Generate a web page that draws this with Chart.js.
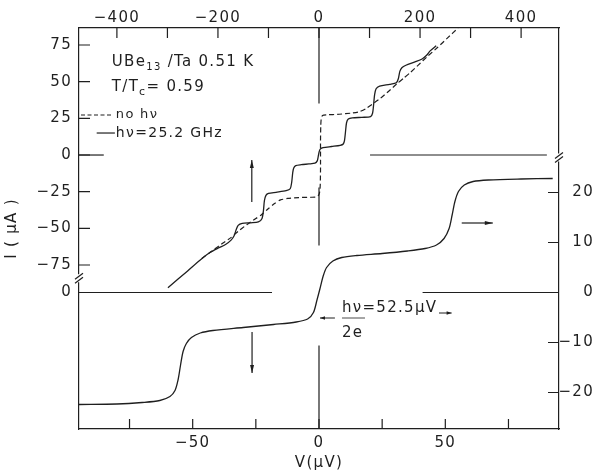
<!DOCTYPE html>
<html>
<head>
<meta charset="utf-8">
<script src="https://cdn.jsdelivr.net/npm/chart.js@4.4.1/dist/chart.umd.min.js"></script>
<style>
  html, body { margin: 0; padding: 0; background: #fff; }
  #wrap { width: 594px; height: 474px; }
</style>
</head>
<body>
<div id="wrap"><canvas id="iv" width="594" height="474"></canvas></div>
<script>
// upper I-V traces: top V axis (uV), left I axis (uA)
// with 25.2 GHz radiation
const rfV = [-299, -260, -235, -216, -200, -185, -174, -168, -164, -160, -152, -135, -120, -113, -110, -108, -105, -100, -85, -65,
  -57, -54, -52, -50, -46, -35, -20, -8, -3.5, -1.5, 0.5, 3, 8, 25, 42, 48, 50.5, 52.5, 54.5, 58,
  66, 85, 102, 106, 108, 110, 113, 120, 140, 153, 157, 160, 164, 172, 190, 204, 213, 220, 232]
const rfI = [-90.5, -79, -71.5, -66.5, -63.5, -61, -58, -55, -51, -48, -46.6, -46.2, -45.6, -43.5, -38, -31, -27.5, -26.2, -25.4, -24.3,
  -23, -18.5, -12, -8.8, -7.2, -6.6, -6.1, -5.6, -4, -1, 2.5, 4.2, 5, 5.8, 6.6, 7.5, 10, 16, 22, 24.5,
  25.3, 25.7, 26.2, 28.5, 34, 41, 45.2, 47, 48.2, 49.3, 52, 57, 59.5, 61.2, 63.5, 65.5, 68, 71, 74.5]
// no radiation
const darkV = [-232, -210, -190, -175, -160, -143, -128, -115, -100, -88, -76, -62, -40, -15, -6, -1, 1.5, 2.5, 3, 3,
  3.5, 4.5, 7, 15, 40, 65, 80, 92, 105, 121, 138, 154, 168, 180, 197, 214, 235, 255, 275]
const darkI = [-70.5, -65, -60, -56.5, -52, -47.5, -44, -41, -36.5, -33, -30.6, -29.6, -29, -28.8, -28.6, -27.5, -25, -20, -10, 10,
  20, 25, 27, 27.4, 27.8, 28.6, 29.5, 31.5, 34.5, 38.5, 43.5, 48.5, 52.5, 56, 61.5, 67, 73.5, 80, 86.5]

// lower trace: bottom V axis (uV), right I axis (uA)
const loV = [-95, -80, -70, -63, -59, -57, -55.8, -54.8, -53.8, -52.5, -50.5, -47, -42, -30, -18, -9, -4.5, -2.2, -0.8, 0.4,
  1.6, 3, 5.5, 9, 15, 25, 35, 42, 46.5, 49.5, 51.5, 52.7, 53.8, 55.2, 57.5, 61, 67, 80, 92.5]
const loI = [-22.4, -22.3, -22.0, -21.6, -20.8, -19.6, -17.5, -14.5, -11.8, -10.2, -9.0, -8.1, -7.6, -7.0, -6.4, -5.9, -5.3, -4.0, -1.5, 0.8,
  3.2, 5, 6.3, 7.0, 7.4, 7.8, 8.3, 8.8, 9.5, 10.8, 12.8, 15.5, 18.2, 20.2, 21.5, 22.2, 22.5, 22.7, 22.8]

const topTicks = [-400, -300, -200, -100, 0, 100, 200, 300, 400]
const topLabels = ['\u2212400', '', '\u2212200', '', '0', '', '200', '', '400']
const botTicks = [-75, -50, -25, 0, 25, 50, 75]
const botLabels = ['', '\u221250', '', '0', '', '50', '']
const leftTicks = [-75, -50, -25, 0, 25, 50, 75]
const leftLabels = ['\u221275', '\u221250', '\u221225', '0', '25', '50', '75']
const rightTicks = [-20, -10, 0, 10, 20]
const rightLabels = ['\u221220', '\u221210', '0', '10', '20']

const topRange = [-475, 475]
const botRange = [-95, 95]
const leftRange = [-186.8, 86.6]
const rightRange = [-27.3, 52.9]

// the lower trace's zero, expressed on the left axis
const lowZeroOnLeft = leftRange[0] + (leftRange[1] - leftRange[0]) * (-rightRange[0]) / (rightRange[1] - rightRange[0])

const ink = '#1f1f1f'
const FONT = '"DejaVu Sans", sans-serif'
const SPACING = '1.3px'

const zip = (xs, ys) => xs.map((x, i) => ({ x, y: ys[i] }))

function line(data, xAxisID, yAxisID, extra) {
  return Object.assign({
    data, xAxisID, yAxisID,
    borderColor: ink, borderWidth: 1.3,
    pointRadius: 0, tension: 0.25, fill: false, spanGaps: false
  }, extra || {})
}

// zero lines and the V = 0 line, broken where the traces run
const refLines = [
  line([{ x: 101, y: 0 }, { x: 451, y: 0 }], 'xTop', 'yL', { tension: 0, borderWidth: 1.2 }),
  line([{ x: -475, y: 0 }, { x: -426, y: 0 }], 'xTop', 'yL', { tension: 0, borderWidth: 1.2 }),
  line([{ x: -95, y: 0 }, { x: -18.6, y: 0 }, { x: 0, y: null }, { x: 41, y: 0 }, { x: 95, y: 0 }], 'xBot', 'yR', { tension: 0, borderWidth: 1.2 }),
  line([{ x: 0, y: 52.9 }, { x: 0, y: 37.8 }, { x: 0, y: null }, { x: 0, y: 21 }, { x: 0, y: 9.4 }, { x: 0, y: null },
    { x: 0, y: -10.6 }, { x: 0, y: -27.3 }], 'xBot', 'yR', { tension: 0, borderWidth: 1.2 })
]

function drawRuns(ctx, x, y, runs) {
  let cx = x
  runs.forEach(([txt, size, dy]) => {
    ctx.font = size + 'px ' + FONT
    ctx.fillText(txt, cx, y + (dy || 0))
    cx += ctx.measureText(txt).width
  })
}

function arrow(ctx, x1, y1, x2, y2, head, half) {
  ctx.beginPath(); ctx.moveTo(x1, y1); ctx.lineTo(x2, y2); ctx.stroke()
  const a = Math.atan2(y2 - y1, x2 - x1)
  const bx = x2 - head * Math.cos(a), by = y2 - head * Math.sin(a)
  ctx.beginPath()
  ctx.moveTo(x2, y2)
  ctx.lineTo(bx + half * Math.sin(a), by - half * Math.cos(a))
  ctx.lineTo(bx - half * Math.sin(a), by + half * Math.cos(a))
  ctx.closePath(); ctx.fill()
}

function axisBreak(ctx, x, y) {
  ctx.fillStyle = '#fff'
  ctx.fillRect(x - 2, y - 4, 4, 8)
  ctx.fillStyle = ink
  ctx.beginPath()
  ctx.moveTo(x - 4, y + 1); ctx.lineTo(x + 4, y - 5)
  ctx.moveTo(x - 4, y + 5); ctx.lineTo(x + 4, y - 1)
  ctx.stroke()
}

// wide lettering for every label on the canvas
const spacing = {
  id: 'spacing',
  beforeUpdate(chart) { chart.ctx.letterSpacing = SPACING },
  beforeDraw(chart) { chart.ctx.letterSpacing = SPACING }
}

const decorations = {
  id: 'decorations',
  afterDatasetsDraw(chart) {
    const { ctx, chartArea: a, scales } = chart
    const { xTop, xBot, yL, yR } = scales
    ctx.save()
    ctx.strokeStyle = ink
    ctx.fillStyle = ink
    ctx.lineWidth = 1.2

    // inward tick marks
    ctx.beginPath()
    topTicks.forEach(v => { const x = xTop.getPixelForValue(v); ctx.moveTo(x, a.top); ctx.lineTo(x, a.top + 10) })
    botTicks.forEach(v => { const x = xBot.getPixelForValue(v); ctx.moveTo(x, a.bottom); ctx.lineTo(x, a.bottom - 10) })
    leftTicks.forEach(v => { const y = yL.getPixelForValue(v); ctx.moveTo(a.left, y); ctx.lineTo(a.left + 11, y) })
    rightTicks.forEach(v => { const y = yR.getPixelForValue(v); ctx.moveTo(a.right, y); ctx.lineTo(a.right - 11, y) })
    ctx.stroke()

    // axis breaks
    axisBreak(ctx, a.left, yL.getPixelForValue(-84))
    axisBreak(ctx, a.right, yR.getPixelForValue(27))

    // direction arrows
    arrow(ctx, xTop.getPixelForValue(-133), yL.getPixelForValue(-32), xTop.getPixelForValue(-133), yL.getPixelForValue(-3.4), 8, 2)
    arrow(ctx, xBot.getPixelForValue(-26.5), yR.getPixelForValue(-7.9), xBot.getPixelForValue(-26.5), yR.getPixelForValue(-16.1), 8, 2)
    arrow(ctx, xBot.getPixelForValue(56.5), yR.getPixelForValue(13.9), xBot.getPixelForValue(68.8), yR.getPixelForValue(13.9), 8, 2)

    // sample label
    ctx.textBaseline = 'alphabetic'
    const tx = xTop.getPixelForValue(-410)
    drawRuns(ctx, tx, yL.getPixelForValue(60.7), [['UBe', 15], ['13', 10, 4], [' /Ta 0.51 K', 15]])
    drawRuns(ctx, tx, yL.getPixelForValue(43.6), [['T/T', 15], ['c', 11, 4], ['= 0.59', 15]])

    // legend
    const ly1 = yL.getPixelForValue(27.3), ly2 = yL.getPixelForValue(15)
    ctx.setLineDash([4, 2.5])
    ctx.beginPath(); ctx.moveTo(a.left + 2, ly1); ctx.lineTo(xTop.getPixelForValue(-408), ly1); ctx.stroke()
    ctx.setLineDash([])
    ctx.beginPath(); ctx.moveTo(xTop.getPixelForValue(-440), ly2); ctx.lineTo(xTop.getPixelForValue(-404), ly2); ctx.stroke()
    ctx.textBaseline = 'middle'
    drawRuns(ctx, xTop.getPixelForValue(-404) + 1, ly1, [['no h\u03bd', 13]])
    drawRuns(ctx, xTop.getPixelForValue(-404) + 1, ly2, [['h\u03bd=25.2 GHz', 14]])

    // photon step spacing, h nu / 2e
    ctx.textBaseline = 'alphabetic'
    const fy = yR.getPixelForValue(-5.1)
    const fx = xBot.getPixelForValue(9.1)
    drawRuns(ctx, fx, yR.getPixelForValue(-3.9), [['h\u03bd', 15], ['=52.5\u03bcV', 15]])
    drawRuns(ctx, fx, yR.getPixelForValue(-8.8), [['2e', 15]])
    ctx.lineWidth = 0.8
    ctx.beginPath(); ctx.moveTo(fx, fy); ctx.lineTo(fx + 23, fy); ctx.stroke()
    ctx.lineWidth = 1
    arrow(ctx, xBot.getPixelForValue(6.3), fy, xBot.getPixelForValue(0.4), fy, 5, 1.8)
    const ay = yR.getPixelForValue(-4.1)
    arrow(ctx, xBot.getPixelForValue(47.5), ay, xBot.getPixelForValue(52.5), ay, 5, 1.8)
    ctx.restore()
  }
}

const tickFont = { family: FONT, size: 15 }
const axisBase = {
  type: 'linear',
  grid: { display: true, drawOnChartArea: false, drawTicks: false },
  border: { display: true, color: ink, width: 1.2 }
}

function axis(extra, vals, labels, size) {
  const s = Object.assign({}, axisBase, extra)
  s.afterBuildTicks = sc => { sc.ticks = vals.map(v => ({ value: v })) }
  s.ticks = Object.assign({
    color: ink, font: tickFont, autoSkip: false, maxRotation: 0,
    callback: (v, i) => labels[i]
  }, extra.ticks || {})
  s.afterFit = sc => {
    if (sc.isHorizontal()) sc.height = size
    else sc.width = size
  }
  return s
}

new Chart(document.getElementById('iv'), {
  type: 'line',
  data: {
    datasets: [
      ...refLines,
      line(zip(darkV, darkI), 'xTop', 'yL', { borderDash: [5, 3], borderWidth: 1.2, tension: 0.2 }),
      line(zip(rfV, rfI), 'xTop', 'yL', { tension: 0.25 }),
      line(zip(loV, loI), 'xBot', 'yR', { tension: 0.3 })
    ]
  },
  options: {
    responsive: false,
    animation: false,
    layout: { padding: 0 },
    plugins: { legend: { display: false }, tooltip: { enabled: false } },
    scales: {
      xTop: axis({ position: 'top', min: topRange[0], max: topRange[1], ticks: { padding: 1 } }, topTicks, topLabels, 28),
      xBot: axis({
        position: 'bottom', min: botRange[0], max: botRange[1], ticks: { padding: 5 },
        title: { display: true, text: 'V(\u03bcV)', color: ink, font: { family: FONT, size: 15 }, padding: { top: 0, bottom: 2 } }
      }, botTicks, botLabels, 45),
      yL: axis({
        position: 'left', min: leftRange[0], max: leftRange[1], ticks: { padding: 7 },
        title: { display: true, text: 'I ( \u03bcA )', color: ink, font: { family: FONT, size: 15 }, padding: { top: 3, bottom: 0 } }
      }, [...leftTicks, lowZeroOnLeft], [...leftLabels, '0'], 79),
      // right labels are right-aligned so the minus signs run into the axis
      yR: axis({ position: 'right', min: rightRange[0], max: rightRange[1], ticks: { padding: -6, crossAlign: 'far' } }, rightTicks, rightLabels, 35)
    }
  },
  plugins: [spacing, decorations]
})
</script>
</body>
</html>
